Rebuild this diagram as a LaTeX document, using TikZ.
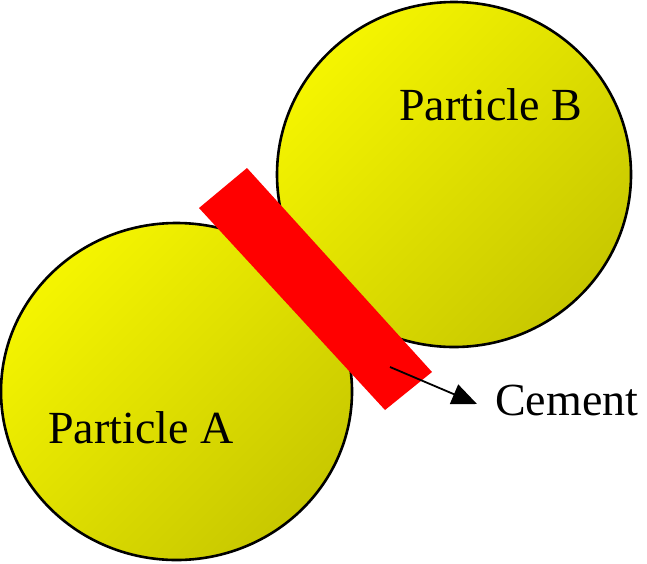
\documentclass[tikz,border=0pt]{standalone}
\usepackage{fontspec}
\setmainfont{Liberation Serif}
\usetikzlibrary{shapes.geometric,arrows.meta}
\definecolor{ylight}{RGB}{245,245,0}
\definecolor{ymid}{RGB}{232,232,0}
\definecolor{ydark}{RGB}{200,200,0}
\definecolor{cementred}{RGB}{255,0,0}
\begin{document}
\begin{tikzpicture}[x=1pt,y=-1pt,
  particle/.style={ellipse, draw=black, line width=2.6pt, inner sep=0pt,
    top color=ylight, middle color=ymid, bottom color=ydark, shading angle=45},
  lbl/.style={font=\fontsize{46}{50}\selectfont, inner sep=0pt},
  pointer/.style={line width=1.8pt, -{Triangle[length=25pt,width=21pt]}}]
\useasboundingbox (0,0) rectangle (647,563);
\node[particle, minimum width=351pt, minimum height=337pt] (A) at (176.5,391.5) {};
\node[particle, minimum width=354pt, minimum height=345pt] (B) at (454,174.5) {};
\fill[cementred] (199,208) -- (247,168) -- (432,372) -- (385,410) -- cycle;
\coordinate (ps) at (390,367);
\coordinate (pe) at (477,404);
\draw[pointer] (ps) -- (pe);
\node[lbl, anchor=base west] (labA) at (48,443) {Particle A};
\node[lbl, anchor=base west] (labB) at (399,120) {Particle B};
\node[lbl, anchor=base west] (labC) at (495,415) {Cement};
\end{tikzpicture}
\end{document}
